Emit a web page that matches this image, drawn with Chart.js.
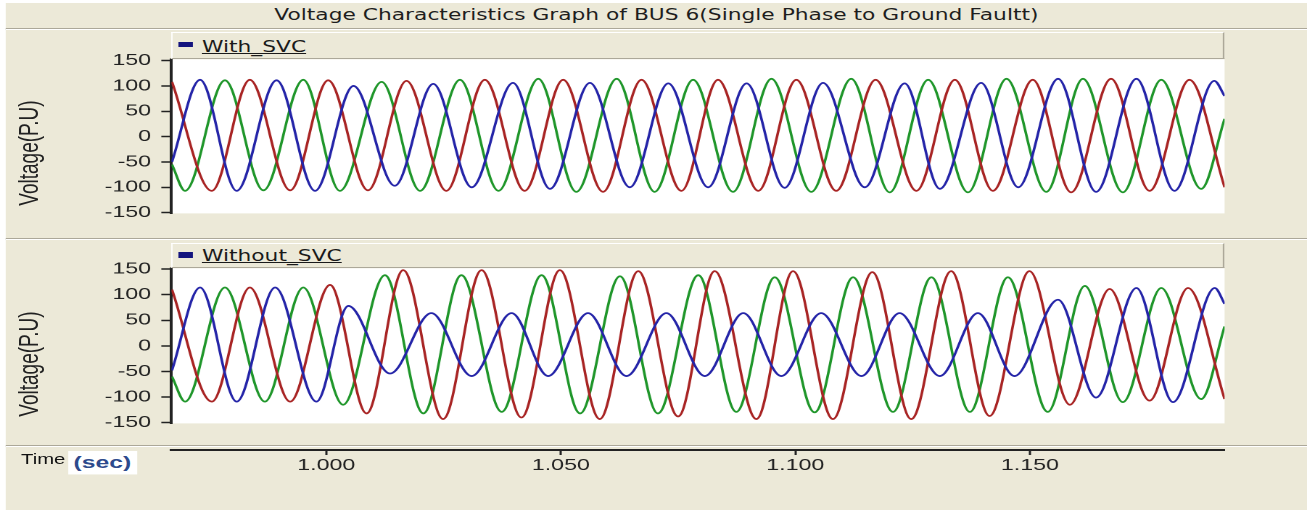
<!DOCTYPE html>
<html>
<head>
<meta charset="utf-8">
<title>Voltage Characteristics Graph of BUS 6</title>
<script src="https://cdn.jsdelivr.net/npm/chart.js@4.4.1/dist/chart.umd.min.js"></script>
<style>
  html, body { margin: 0; padding: 0; background: #fff; }
  body { width: 1307px; height: 510px; overflow: hidden; position: relative; }
  /* the original screenshot is stretched sideways, so the whole frame is too */
  #frame { position: absolute; left: 0; top: 0; width: 901px; height: 510px; transform: scaleX(1.45061); transform-origin: 0 0; }
  #back { position: absolute; left: 3.5px; top: 3px; right: 0; bottom: 0; background: #ece9d8; }
  .sep { position: absolute; left: 3.5px; right: 0; height: 1px; background: #aca899; border-bottom: 1px solid #fff; }
  #title { position: absolute; left: 2px; width: 901px; top: 8px; text-align: center; font: 15px/15px "DejaVu Sans", sans-serif; color: #1e1e1e; white-space: nowrap; }
  .bar { position: absolute; left: 118.2px; width: 726px; box-sizing: border-box; background: #ece9d8; border-top: 1px solid #fff; border-left: 1px solid #fff; border-bottom: 1px solid #aca899; border-right: 1px solid #aca899; }
  .key { position: absolute; left: 4.2px; width: 9.6px; height: 5.5px; background: #14147e; }
  .name { position: absolute; left: 20px; font: 15px/15px "DejaVu Sans", sans-serif; color: #1a1a1a; text-decoration: underline; white-space: nowrap; }
  .ytitle { position: absolute; left: 19.5px; font: 19px/19px "Liberation Sans", Arial, sans-serif; color: #222; white-space: nowrap; transform: translate(-50%, -50%) rotate(-90deg); }
  canvas { position: absolute; left: 0; }
  #timeLbl { position: absolute; left: 14.5px; top: 451.5px; font: 14px/14px "Liberation Sans", Arial, sans-serif; color: #111; }
  #secBox { position: absolute; left: 47.1px; top: 451px; width: 47px; height: 23px; background: #fff; text-align: center; font: bold 17px/23px "Liberation Sans", Arial, sans-serif; color: #2d4a8c; }
</style>
</head>
<body>
<div id="frame">
  <div id="back"></div>
  <div id="title">Voltage Characteristics Graph of BUS 6(Single Phase to Ground Faultt)</div>
  <div class="sep" style="top:28px"></div>
  <div class="sep" style="top:237.5px"></div>
  <div class="sep" style="top:445px"></div>

  <canvas id="chartWith" width="901" height="200" style="top:30px"></canvas>
  <canvas id="chartWithout" width="901" height="200" style="top:240px"></canvas>
  <canvas id="chartTime" width="901" height="60" style="top:440px"></canvas>

  <div class="bar" style="top:32px;height:27px"><span class="key" style="top:8.5px"></span><span class="name" style="top:7px">With_SVC</span></div>
  <div class="bar" style="top:243px;height:25px"><span class="key" style="top:8px"></span><span class="name" style="top:5px">Without_SVC</span></div>

  <div class="ytitle" style="top:153px">Voltage(P.U)</div>
  <div class="ytitle" style="top:364px">Voltage(P.U)</div>

  <div id="timeLbl">Time</div>
  <div id="secBox">(sec)</div>
</div>

<script>
// Eje de tiempo (segundos) y etiquetas
const tStart = 0.967;
const tEnd = 1.1915;
const timeTicks = [1.0, 1.05, 1.1, 1.15];
const voltTicks = [-150, -100, -50, 0, 50, 100, 150];

// With_SVC: [time, value] at each peak / trough
const withRed = [
  [0.9671, 108], [0.9756, -107], [0.9837, 112], [0.9923, -106], [1.0004, 111],
  [1.0089, -106], [1.0171, 110], [1.0256, -107], [1.0338, 112], [1.0423, -107],
  [1.0505, 112], [1.059, -109], [1.0672, 112], [1.0757, -107], [1.0835, 112],
  [1.0921, -107], [1.1002, 112], [1.1087, -107], [1.1171, 112], [1.1258, -107],
  [1.134, 112], [1.1421, -107], [1.1506, 112], [1.1588, -110], [1.1673, 114],
  [1.1755, -107], [1.184, 112], [1.1915, -100],
];
const withBlue = [
  [0.9671, -50], [0.9731, 112], [0.9809, -107], [0.9894, 111], [0.9976, -107],
  [1.0058, 100], [1.0146, -97], [1.0228, 104], [1.031, -100], [1.0398, 106],
  [1.0477, -103], [1.0562, 106], [1.0647, -100], [1.0729, 105], [1.0814, -100],
  [1.0896, 105], [1.0977, -101], [1.1059, 106], [1.1148, -100], [1.1233, 105],
  [1.1308, -103], [1.1396, 106], [1.1475, -100], [1.156, 114], [1.1641, -109],
  [1.1727, 114], [1.1808, -107], [1.1893, 110], [1.1915, 80],
];
const withGreen = [
  [0.9671, -55], [0.9699, -107], [0.9784, 111], [0.9866, -106], [0.9951, 112],
  [1.0029, -107], [1.0118, 108], [1.02, -107], [1.0285, 112], [1.0367, -107],
  [1.0452, 114], [1.0533, -109], [1.0619, 114], [1.07, -109], [1.0782, 112],
  [1.0867, -109], [1.0949, 114], [1.1034, -109], [1.1119, 114], [1.1201, -110],
  [1.1283, 112], [1.1368, -110], [1.145, 114], [1.1535, -109], [1.1613, 114],
  [1.1698, -110], [1.178, 112], [1.1865, -103], [1.1915, 35],
];

// Without_SVC
const withoutRed = [
  [0.9671, 110], [0.9756, -109], [0.9837, 114], [0.9923, -109], [1.0008, 119],
  [1.0086, -132], [1.0164, 148], [1.0249, -143], [1.0331, 148], [1.0416, -140],
  [1.0498, 148], [1.0583, -143], [1.0665, 146], [1.075, -138], [1.0828, 146],
  [1.0917, -143], [1.0995, 146], [1.108, -143], [1.1164, 144], [1.1247, -143],
  [1.1332, 146], [1.1414, -137], [1.1499, 146], [1.1585, -115], [1.167, 111],
  [1.1755, -107], [1.1837, 113], [1.1915, -104],
];
const withoutBlue = [
  [0.9671, -48], [0.9731, 114], [0.9809, -109], [0.9891, 114], [0.9979, -109],
  [1.0047, 78], [1.0136, -54], [1.0224, 64], [1.031, -59], [1.0395, 64],
  [1.0473, -59], [1.0558, 64], [1.064, -59], [1.0725, 64], [1.0807, -59],
  [1.0889, 64], [1.097, -59], [1.1055, 64], [1.1141, -59], [1.1222, 64],
  [1.1308, -59], [1.1389, 64], [1.1467, -59], [1.156, 90], [1.1641, -101],
  [1.1727, 113], [1.1805, -110], [1.1894, 113], [1.1915, 82],
];
const withoutGreen = [
  [0.9671, -60], [0.9699, -109], [0.9784, 114], [0.9869, -109], [0.9951, 114],
  [1.0036, -115], [1.0125, 138], [1.0207, -132], [1.0288, 138], [1.0374, -129],
  [1.0459, 138], [1.0541, -132], [1.0626, 136], [1.0707, -132], [1.0793, 138],
  [1.0874, -129], [1.0956, 134], [1.1041, -130], [1.1123, 134], [1.1208, -129],
  [1.129, 134], [1.1372, -129], [1.1453, 134], [1.1538, -129], [1.1617, 117],
  [1.1698, -110], [1.178, 113], [1.1865, -104], [1.1915, 38],
];

const colorBlue = "#2424a8";
const colorRed = "#a82424";
const colorGreen = "#1f962a";
const axisFont = { family: "'Liberation Sans', Arial, sans-serif", size: 16 };

// white plot background
const plotBg = {
  id: "plotBg",
  beforeDraw(chart) {
    const { ctx, chartArea: a } = chart;
    ctx.save();
    ctx.fillStyle = "#fff";
    ctx.fillRect(a.left, a.top, a.width, a.height);
    ctx.restore();
  },
};

function phaseLine(points, color) {
  return {
    data: points.map((p) => ({ x: p[0], y: p[1] })),
    borderColor: color,
    borderWidth: 1.8,
    pointRadius: 0,
    fill: false,
    cubicInterpolationMode: "monotone", // smooth between peaks
  };
}

function makePanel(id, red, blue, green, yMin, yMax, padTop, padBottom) {
  const ctx = document.getElementById(id).getContext("2d");
  return new Chart(ctx, {
    type: "line",
    data: {
      datasets: [phaseLine(blue, colorBlue), phaseLine(red, colorRed), phaseLine(green, colorGreen)],
    },
    options: {
      responsive: false,
      devicePixelRatio: 2,
      animation: false,
      events: [],
      layout: { autoPadding: false, padding: { left: 0, right: 56.8, top: padTop, bottom: padBottom } },
      plugins: { legend: { display: false }, tooltip: { enabled: false } },
      scales: {
        x: { type: "linear", min: tStart, max: tEnd, display: false },
        y: {
          min: yMin,
          max: yMax,
          afterFit: (s) => { s.width = 118.2; },
          afterBuildTicks: (s) => { s.ticks = voltTicks.map((v) => ({ value: v })); },
          grid: { drawOnChartArea: false, tickLength: 7, tickWidth: 1.5, tickColor: "#222" },
          border: { color: "#222", width: 2 },
          ticks: { color: "#222", padding: 7, font: axisFont },
        },
      },
    },
    plugins: [plotBg],
  });
}

makePanel("chartWith", withRed, withBlue, withGreen, -151.5, 152.5, 29.3, 7.3);
makePanel("chartWithout", withoutRed, withoutBlue, withoutGreen, -151.5, 151.5, 28.3, 10);

// Eje X compartido debajo de los dos paneles
new Chart(document.getElementById("chartTime").getContext("2d"), {
  type: "line",
  data: { datasets: [] },
  options: {
    responsive: false,
    devicePixelRatio: 2,
    animation: false,
    events: [],
    layout: { autoPadding: false, padding: { left: 118.2, right: 56.8, top: 0, bottom: 0 } },
    plugins: { legend: { display: false }, tooltip: { enabled: false } },
    scales: {
      x: {
        type: "linear",
        position: "bottom",
        min: tStart,
        max: tEnd,
        afterFit: (s) => { s.height = 50; },
        afterBuildTicks: (s) => { s.ticks = timeTicks.map((v) => ({ value: v })); },
        grid: { drawOnChartArea: false, tickLength: 5, tickWidth: 1.5, tickColor: "#222" },
        border: { color: "#222", width: 2 },
        ticks: { color: "#222", padding: 1, maxRotation: 0, font: axisFont, callback: (v) => Number(v).toFixed(3) },
      },
      y: { display: false, min: 0, max: 1 },
    },
  },
});
</script>
</body>
</html>
